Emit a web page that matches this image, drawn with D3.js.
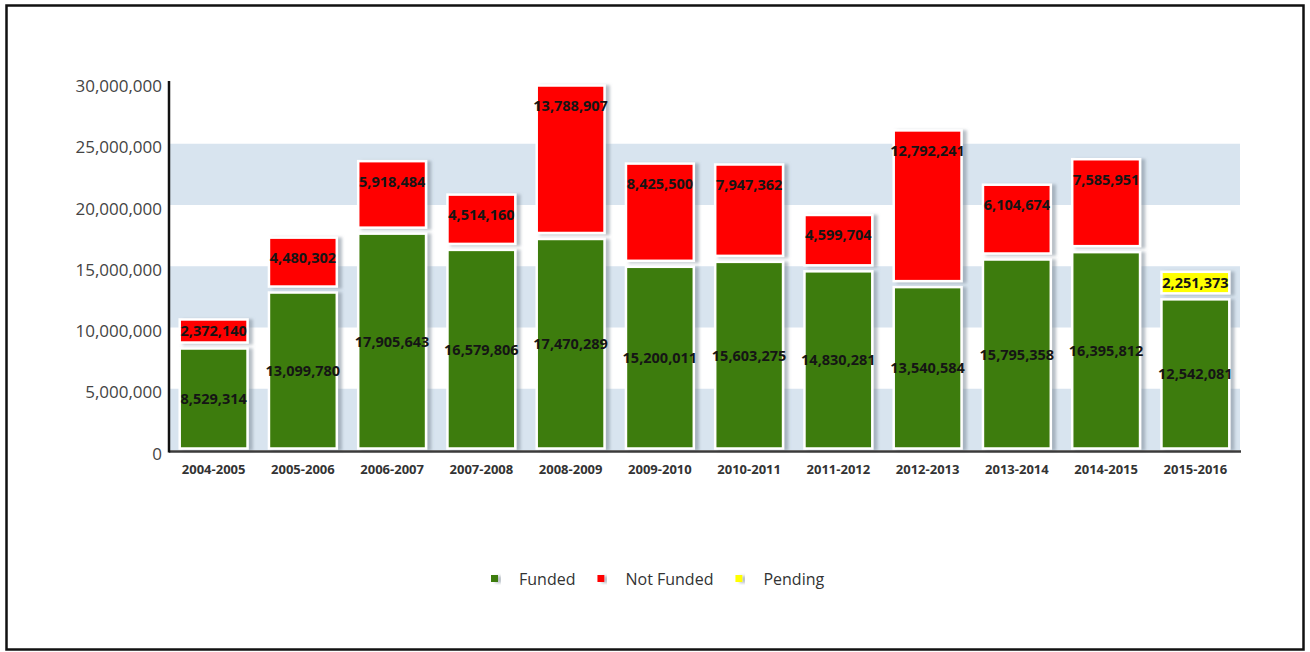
<!DOCTYPE html>
<html lang="en">
<head>
  <meta charset="UTF-8">
  <title>Funded / Not Funded / Pending</title>
  <script src="https://d3js.org/d3.v7.min.js"></script>
  <style>
    body { margin: 0; background: #fff; }
    svg { display: block; }
    .tick-label { font-family: "Open Sans", sans-serif; font-size: 17px; fill: #444; }
    .cat-label { font-family: "Open Sans", sans-serif; font-size: 13px; font-weight: bold; fill: #333; }
    .val-label { font-family: "Open Sans", sans-serif; font-size: 14.5px; font-weight: bold; fill: #151515; }
    .legend-text { font-family: "Open Sans", sans-serif; font-size: 16px; fill: #333; }
  </style>
</head>
<body>
  <svg width="1310" height="652"></svg>

  <script>
    // values
    const seasons = ['2004-2005', '2005-2006', '2006-2007', '2007-2008', '2008-2009', '2009-2010',
                     '2010-2011', '2011-2012', '2012-2013', '2013-2014', '2014-2015', '2015-2016'];
    const funded = [8529314, 13099780, 17905643, 16579806, 17470289, 15200011,
                    15603275, 14830281, 13540584, 15795358, 16395812, 12542081];
    const notFunded = [2372140, 4480302, 5918484, 4514160, 13788907, 8425500,
                       7947362, 4599704, 12792241, 6104674, 7585951, 0];
    const pending = [0, 0, 0, 0, 0, 0, 0, 0, 0, 0, 0, 2251373];
    const yTicks = [0, 5000000, 10000000, 15000000, 20000000, 25000000, 30000000];
    const seriesNames = ['Funded', 'Not Funded', 'Pending'];
    const seriesColors = ['#3d7c08', '#ff0000', '#ffff00'];

    const svg = d3.select('svg');

    // drop shadow used by bars and legend squares
    const defs = svg.append('defs');
    const f = defs.append('filter').attr('id', 'shadow')
      .attr('x', '-20%').attr('y', '-20%').attr('width', '150%').attr('height', '150%');
    f.append('feDropShadow').attr('dx', 4).attr('dy', 1).attr('stdDeviation', 1.5)
      .attr('flood-color', '#7d8a98').attr('flood-opacity', 0.55);

    // outer frame
    svg.append('rect')
      .attr('x', 6.5).attr('y', 5.5).attr('width', 1297).attr('height', 644)
      .attr('fill', 'none').attr('stroke', '#111').attr('stroke-width', 2.5);

    const x = d3.scaleBand().domain(seasons).range([169, 1240])
      .paddingInner(0.24).paddingOuter(0.12);
    const y = d3.scaleLinear().domain([0, 30000000]).range([450, 82.5]);

    // alternating background bands
    const bands = d3.range(0, yTicks.length - 1, 2).map(i => [yTicks[i], yTicks[i + 1]]);
    svg.append('g').selectAll('rect').data(bands).join('rect')
      .attr('x', 169).attr('width', 1240 - 169)
      .attr('y', d => y(d[1])).attr('height', d => y(d[0]) - y(d[1]))
      .attr('fill', '#d8e4ef');

    // y tick labels
    svg.append('g').selectAll('text').data(yTicks).join('text')
      .attr('class', 'tick-label')
      .attr('x', 162).attr('y', d => y(d) + 3)
      .attr('text-anchor', 'end').attr('dominant-baseline', 'central')
      .text(d => d3.format(',')(d));

    // stacked segments
    const rows = seasons.map((s, i) => ({ season: s, vals: [funded[i], notFunded[i], pending[i]] }));
    const segs = [];
    rows.forEach(r => {
      let base = 0;
      r.vals.forEach((v, k) => {
        if (v > 0) segs.push({ season: r.season, k: k, v: v, lo: base, hi: base + v });
        base += v;
      });
    });
    const ymax = y.domain()[1];
    segs.forEach(d => {
      d.top = y(Math.min(d.hi, ymax)) + 3;
      d.bot = y(d.lo) - (d.lo === 0 ? 1.5 : 3);
    });

    const gBars = svg.append('g');
    gBars.selectAll('rect').data(segs).join('rect')
      .attr('x', d => x(d.season))
      .attr('width', x.bandwidth())
      .attr('y', d => d.top)
      .attr('height', d => d.bot - d.top)
      .attr('fill', d => seriesColors[d.k])
      .attr('stroke', '#fff').attr('stroke-width', 2.5)
      .attr('filter', 'url(#shadow)');

    // value labels: funded centered, others near the top of the segment
    gBars.selectAll('text').data(segs).join('text')
      .attr('class', 'val-label')
      .attr('x', d => x(d.season) + x.bandwidth() / 2)
      .attr('y', d => d.k === 0 ? (d.top + d.bot) / 2 : d.top + Math.min(20, (d.bot - d.top) / 2))
      .attr('text-anchor', 'middle').attr('dominant-baseline', 'central')
      .text(d => d3.format(',')(d.v));

    // axes lines
    svg.append('line').attr('x1', 169).attr('x2', 1241).attr('y1', 451.5).attr('y2', 451.5)
      .attr('stroke', '#3a3a3a').attr('stroke-width', 2.5);
    svg.append('line').attr('x1', 169).attr('x2', 169).attr('y1', 81).attr('y2', 452.5)
      .attr('stroke', '#111').attr('stroke-width', 2.5);

    // category labels
    svg.append('g').selectAll('text').data(seasons).join('text')
      .attr('class', 'cat-label')
      .attr('x', d => x(d) + x.bandwidth() / 2).attr('y', 469)
      .attr('text-anchor', 'middle').attr('dominant-baseline', 'central')
      .text(d => d);

    // legend
    const gLeg = svg.append('g');
    let lx = 491;
    seriesNames.forEach((name, k) => {
      gLeg.append('rect').attr('x', lx).attr('y', 575).attr('width', 7).attr('height', 7)
        .attr('fill', seriesColors[k]).attr('filter', 'url(#shadow)');
      const t = gLeg.append('text').attr('class', 'legend-text')
        .attr('x', lx + 28).attr('y', 579).attr('dominant-baseline', 'central').text(name);
      lx += 28 + t.node().getComputedTextLength() + 22;
    });
  </script>
</body>
</html>
